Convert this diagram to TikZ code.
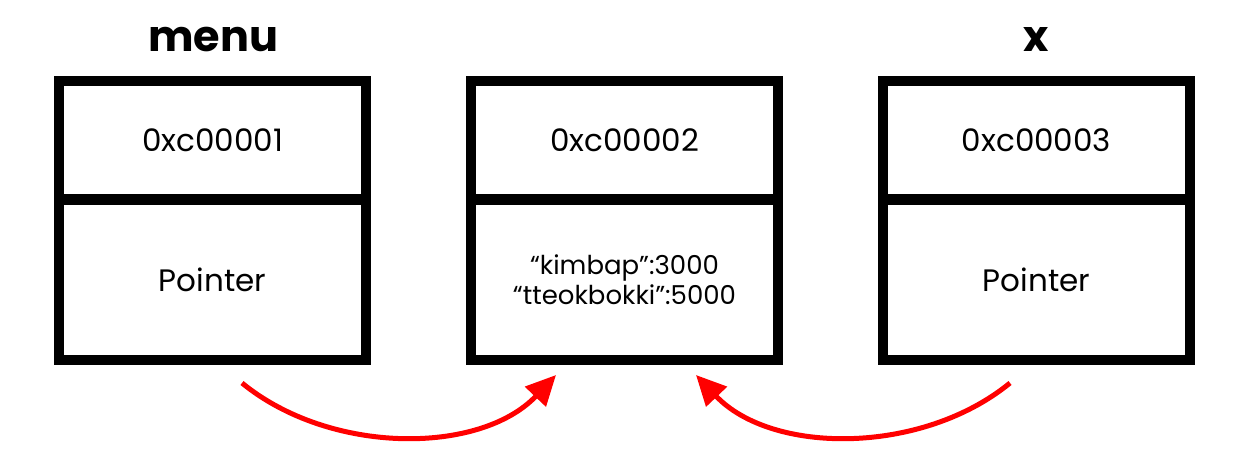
\documentclass[tikz,border=0pt]{standalone}
\usepackage{fontspec}
\setmainfont{Poppins}
\usetikzlibrary{arrows.meta}
\begin{document}
\begin{tikzpicture}[x=1pt,y=-1pt,
  cell/.style={draw=black, line width=10pt, minimum width=307pt, inner sep=0pt, align=center},
  topcell/.style={cell, minimum height=119pt, font=\fontsize{31}{36}\selectfont},
  botcell/.style={cell, minimum height=161pt, font=\fontsize{31}{36}\selectfont},
  title/.style={font=\fontsize{43}{46}\selectfont\bfseries, inner sep=0pt},
  ptr/.style={draw={rgb,255:red,255;green,0;blue,0}, line width=5pt,
    -{Triangle[length=30pt,width=28pt]}}]
\useasboundingbox (0,0) rectangle (1260,471);
\fill[white] (0,0) rectangle (1260,471);
% titles
\node[title] (tmenu) at (213,40) {menu};
\node[title] (tx) at (1036,40) {x};
% boxes
\node[topcell] (a1) at (212.5,140) {0xc00001};
\node[botcell] (a2) at (212.5,279.5) {Pointer};
\node[topcell] (b1) at (624.5,140) {0xc00002};
\node[botcell, font=\fontsize{26}{30}\selectfont] (b2) at (624.5,279.5) {“kimbap”:3000\\“tteokbokki”:5000};
\node[topcell] (c1) at (1036.5,140) {0xc00003};
\node[botcell] (c2) at (1036.5,279.5) {Pointer};
% arrows
\coordinate (s1) at (242,383);
\coordinate (e1) at (556,375);
\coordinate (s2) at (1010,383);
\coordinate (e2) at (696,375);
\draw[ptr] (s1) .. controls (330,455) and (480,455) .. (e1);
\draw[ptr] (s2) .. controls (922,455) and (772,455) .. (e2);
\end{tikzpicture}
\end{document}
